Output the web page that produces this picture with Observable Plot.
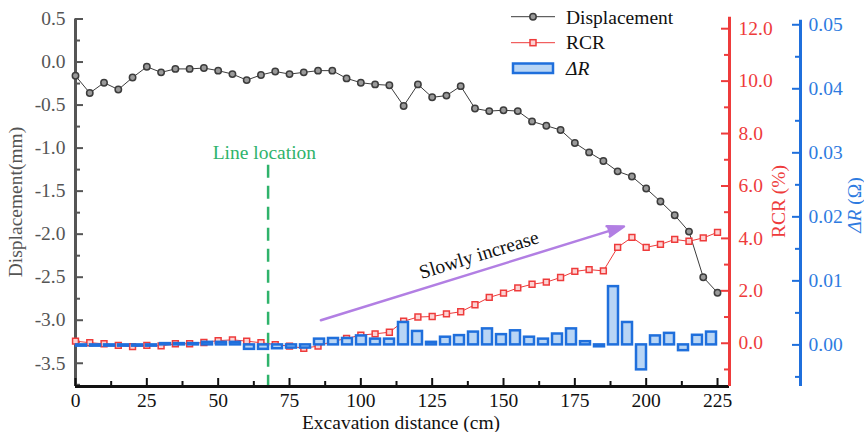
<!DOCTYPE html>
<html><head><meta charset="utf-8">
<script src="https://cdn.jsdelivr.net/npm/d3@7"></script>
<script src="https://cdn.jsdelivr.net/npm/@observablehq/plot@0.6"></script>
<style>
body{margin:0;background:#fff;}
#chart{position:relative;width:864px;height:432px;overflow:hidden;font-family:"Liberation Serif","Times New Roman",serif;}
#chart svg{position:absolute;left:0;top:0;}
</style></head><body><div id="chart"></div>
<script>
// ---- data ----
const distance = [0,5,10,15,20,25,30,35,40,45,50,55,60,65,70,75,80,85,90,95,100,105,110,115,120,125,130,135,140,145,150,155,160,165,170,175,180,185,190,195,200,205,210,215,220,225];
const displacement = [-0.16,-0.36,-0.24,-0.32,-0.18,-0.055,-0.12,-0.08,-0.08,-0.07,-0.10,-0.14,-0.21,-0.15,-0.11,-0.14,-0.12,-0.10,-0.10,-0.19,-0.24,-0.26,-0.27,-0.51,-0.26,-0.41,-0.39,-0.28,-0.54,-0.57,-0.56,-0.57,-0.69,-0.74,-0.79,-0.94,-1.05,-1.15,-1.27,-1.33,-1.47,-1.62,-1.78,-1.97,-2.50,-2.68];
const rcr = [0.08,0.02,-0.02,-0.08,-0.13,-0.08,-0.10,-0.02,-0.02,0.03,0.10,0.13,0.08,0.02,-0.05,-0.11,-0.19,-0.11,0.07,0.18,0.31,0.36,0.42,0.84,1.00,1.02,1.12,1.20,1.47,1.75,1.91,2.11,2.25,2.33,2.51,2.74,2.81,2.76,3.66,4.04,3.66,3.77,3.96,3.89,4.02,4.23];
const deltaR = [-0.0002,-0.0002,-0.0002,-0.0002,-0.0002,-0.0002,0.0002,0.0002,0.0002,0.0004,0.0004,0.0004,-0.0007,-0.0007,-0.0006,-0.0005,-0.0005,0.0009,0.0010,0.0010,0.0014,0.0009,0.0009,0.0035,0.0021,0.0004,0.0012,0.00145,0.0020,0.0025,0.0016,0.0022,0.0012,0.0009,0.0017,0.0025,0.0005,-0.0003,0.0091,0.0035,-0.0039,0.0014,0.0018,-0.0009,0.0015,0.0020];

const xTicks = [0,25,50,75,100,125,150,175,200,225];
const xMinor = [12.5,37.5,62.5,87.5,112.5,137.5,162.5,187.5,212.5];
const dispTicks = [0.5,0,-0.5,-1,-1.5,-2,-2.5,-3,-3.5];
const dispMinor = [0.25,-0.25,-0.75,-1.25,-1.75,-2.25,-2.75,-3.25,-3.75];
const rcrTicks = [0,2,4,6,8,10,12];
const rcrMinor = [-1,1,3,5,7,9,11];
const drTicks = [0,0.01,0.02,0.03,0.04,0.05];
const drMinor = [-0.005,0.005,0.015,0.025,0.035,0.045];

const lineLocation = [{x:67.5, y1:-1.2, y2:-3.84}];
const lineLabel = [{x:66.2, y:-1.05, text:"Line location"}];
const arrowData = [{x1:86, y1:-3.0, x2:192.2, y2:-1.91}];
const arrowLabel = [{x:141.4, y:-2.24, text:"Slowly increase"}];

const xDomain = [0, 229.2];
const dispDomain = [-3.77, 0.5];
const rcrDomain = [-1.65, 12.37];
const drDomain = [-0.0065, 0.0509];

const C = {gray:"#555555", dark:"#3c3c3c", red:"#ee3b3b", blue:"#1f6fdc", blueText:"#2e7be0", barFill:"#b8d5f5", green:"#2fb36b", purple:"#b27fe3"};
const FS = 19.5;

const rows = distance.map((d,i)=>({x:d, disp:displacement[i], rcr:rcr[i], dr:deltaR[i]}));

const W=864,H=432,mT=18.5,mB=46,mL=75,mR=135;
const frameW = W-mL-mR, frameH = H-mT-mB;
const style = {background:"transparent", overflow:"visible", fontFamily:"'Liberation Serif','Times New Roman',serif", fontSize:FS+"px"};
const base = {width:W, height:H, marginTop:mT, marginBottom:mB, marginLeft:mL, marginRight:mR, style};

const root = document.getElementById("chart");

// Plot 1: displacement, left & bottom axes, annotations
const p1 = Plot.plot({...base,
  x:{domain:xDomain}, y:{domain:dispDomain},
  marks:[
    Plot.ruleX(lineLocation,{x:"x", y1:"y1", y2:"y2", stroke:C.green, strokeWidth:2.5, strokeDasharray:"13,8"}),
    Plot.text(lineLabel,{x:"x", y:"y", text:"text", fill:C.green, fontSize:FS}),
    Plot.arrow(arrowData,{x1:"x1", y1:"y1", x2:"x2", y2:"y2", stroke:C.purple, fill:C.purple, strokeWidth:2.5, headLength:10.4, headAngle:36, strokeLinejoin:"miter"}),
    Plot.text(arrowLabel,{x:"x", y:"y", text:"text", rotate:-17, fill:"#111", fontSize:FS}),
    Plot.axisY({ticks:dispTicks, anchor:"left", tickSize:0, tickPadding:10, tickFormat:d=>d.toFixed(1), fill:C.gray, fontSize:FS, label:null}),
    Plot.ruleY(dispTicks,{stroke:C.gray, strokeWidth:2, insetRight:frameW-8}),
    Plot.ruleY(dispMinor,{stroke:C.gray, strokeWidth:2, insetRight:frameW-5}),
    Plot.ruleX([0],{stroke:C.gray, strokeWidth:3}),
    Plot.axisX({ticks:xTicks, anchor:"bottom", tickSize:0, tickPadding:7, fill:"#111", fontSize:FS, label:null}),
    Plot.ruleX(xTicks,{stroke:"#111", strokeWidth:2, insetTop:frameH-8}),
    Plot.ruleX(xMinor,{stroke:"#111", strokeWidth:2, insetTop:frameH-5}),
    Plot.ruleY([dispDomain[0]],{stroke:"#111", strokeWidth:3}),
    Plot.line(rows,{x:"x", y:"disp", stroke:C.dark, strokeWidth:1}),
    Plot.dot(rows,{x:"x", y:"disp", r:3.2, fill:"#9a9a9a", stroke:C.dark, strokeWidth:1.5})
  ]
});
root.appendChild(p1);

// Plot 2: RCR with red right axis
const p2 = Plot.plot({...base,
  x:{domain:xDomain, axis:null}, y:{domain:rcrDomain},
  marks:[
    Plot.axisY({ticks:rcrTicks, anchor:"right", tickSize:0, tickPadding:9, tickFormat:d=>d.toFixed(1), fill:C.red, fontSize:FS, label:null}),
    Plot.ruleY(rcrTicks,{stroke:C.red, strokeWidth:2, insetLeft:frameW-8}),
    Plot.ruleY(rcrMinor,{stroke:C.red, strokeWidth:2, insetLeft:frameW-5}),
    Plot.ruleX([xDomain[1]],{y1:rcrDomain[0], y2:12.44, stroke:C.red, strokeWidth:3}),
    Plot.line(rows,{x:"x", y:"rcr", stroke:C.red, strokeWidth:1}),
    Plot.dot(rows,{x:"x", y:"rcr", symbol:"square", r:3.3, fill:"#fcd2d2", stroke:C.red, strokeWidth:1.5})
  ]
});
root.appendChild(p2);

// Plot 3: ΔR bars
const step = (225*frameW/xDomain[1])/45;
const p3 = Plot.plot({...base,
  x:{type:"band", domain:distance, range:[mL-step/2, mL+225*frameW/xDomain[1]+step/2], paddingInner:0.31, paddingOuter:0.155, axis:null},
  y:{domain:drDomain, axis:null},
  marks:[
    Plot.barY(rows,{x:"x", y:"dr", fill:C.barFill, stroke:C.blue, strokeWidth:2.5})
  ]
});
root.appendChild(p3);

// Plot 4: ΔR axis (offset to the right)
const mR4 = 64, frameW4 = W-mL-mR4;
const p4 = Plot.plot({...base, marginRight:mR4,
  x:{domain:[0,1], axis:null}, y:{domain:drDomain},
  marks:[
    Plot.axisY({ticks:drTicks, anchor:"right", tickSize:0, tickPadding:8, tickFormat:d=>d.toFixed(2), fill:C.blueText, fontSize:FS, label:null}),
    Plot.ruleY(drTicks,{stroke:C.blue, strokeWidth:2, insetLeft:frameW4-8}),
    Plot.ruleY(drMinor,{stroke:C.blue, strokeWidth:2, insetLeft:frameW4-5}),
    Plot.ruleX([1],{y1:drDomain[0], y2:0.0507, stroke:C.blue, strokeWidth:3})
  ]
});
root.appendChild(p4);

// Titles and legend
const svg = d3.create("svg").attr("width",W).attr("height",H)
  .style("font-family","'Liberation Serif','Times New Roman',serif").style("font-size",FS+"px").style("overflow","visible");
svg.append("text").attr("transform","translate(22,202) rotate(-90)").attr("text-anchor","middle").attr("fill",C.gray).text("Displacement(mm)");
svg.append("text").attr("x",401).attr("y",429).attr("text-anchor","middle").attr("fill","#111").text("Excavation distance (cm)");
svg.append("text").attr("transform","translate(785,201.5) rotate(-90)").attr("text-anchor","middle").attr("fill",C.red).text("RCR (%)");
const t3 = svg.append("text").attr("transform","translate(861,205) rotate(-90)").attr("text-anchor","middle").attr("fill",C.blueText);
t3.append("tspan").attr("font-style","italic").text("ΔR");
t3.append("tspan").text(" (Ω)");

const lg = svg.append("g");
lg.append("line").attr("x1",511).attr("x2",555).attr("y1",16.7).attr("y2",16.7).attr("stroke",C.dark).attr("stroke-width",1);
lg.append("circle").attr("cx",533).attr("cy",16.7).attr("r",3.2).attr("fill","#9a9a9a").attr("stroke",C.dark).attr("stroke-width",1.5);
lg.append("text").attr("x",566).attr("y",23.5).attr("fill","#111").text("Displacement");
lg.append("line").attr("x1",511).attr("x2",555).attr("y1",42.7).attr("y2",42.7).attr("stroke",C.red).attr("stroke-width",1);
lg.append("rect").attr("x",530).attr("y",39.7).attr("width",6).attr("height",6).attr("fill","#fcd2d2").attr("stroke",C.red).attr("stroke-width",1.5);
lg.append("text").attr("x",566).attr("y",49).attr("fill","#111").text("RCR");
lg.append("rect").attr("x",513).attr("y",63.5).attr("width",40).attr("height",9.5).attr("fill",C.barFill).attr("stroke",C.blue).attr("stroke-width",2.5);
lg.append("text").attr("x",566).attr("y",75).attr("fill","#111").attr("font-style","italic").text("ΔR");
root.appendChild(svg.node());
</script></body></html>
